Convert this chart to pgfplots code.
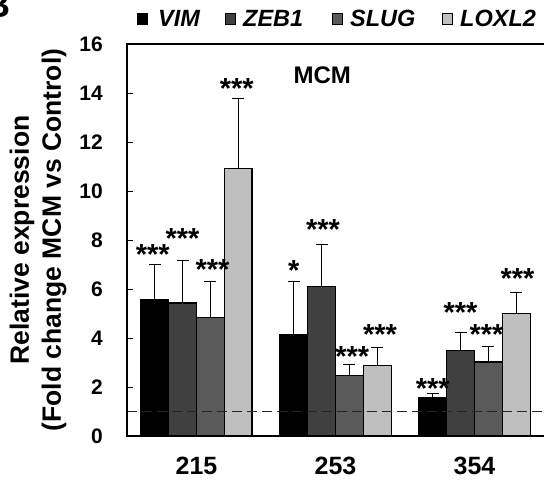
\documentclass[border=0pt]{standalone}
\usepackage{pgfplots}
\usepackage{pgfplotstable}
\usepackage{fontspec}
\setmainfont{Liberation Sans}
\pgfplotsset{compat=1.18}

\definecolor{cvim}{HTML}{000000}
\definecolor{czeb}{HTML}{404040}
\definecolor{cslug}{HTML}{5A5A5A}
\definecolor{clox}{HTML}{BFBFBF}

\newcommand{\fs}[1]{\fontsize{#1}{#1}\selectfont\bfseries}

% mean and upper error, groups 215 / 253 / 354
\pgfplotstableread{
x y e
0 5.58 1.42
1 4.12 2.21
2 1.55 0.18
}\vim
\pgfplotstableread{
x y e
0 5.43 1.74
1 6.09 1.72
2 3.48 0.74
}\zeb
\pgfplotstableread{
x y e
0 4.84 1.49
1 2.46 0.47
2 3.02 0.62
}\slug
\pgfplotstableread{
x y e
0 10.93 2.83
1 2.88 0.72
2 4.99 0.89
}\lox

\begin{document}
\begin{tikzpicture}
\begin{axis}[
  at={(0,0)}, anchor=south west,
  scale only axis, width=417pt, height=392pt,
  xmin=-0.5, xmax=2.5, ymin=0, ymax=16,
  ybar=0pt, bar width=0.2,
  axis line style={draw=none},
  clip=false,
  xtick={0,1,2}, xticklabels={215,253,354},
  x tick style={draw=none},
  ytick={0,2,...,16},
  ytick pos=left, tick align=inside, major tick length=6pt,
  y tick style={black,line width=0.8pt},
  /pgf/number format/assume math mode=true,
  yticklabel style={font=\fs{21}, anchor=east, inner sep=0pt, xshift=-24pt},
  xticklabel style={font=\fs{25}, anchor=north, inner sep=0pt, yshift=-21pt},
  ylabel={Relative expression\\(Fold change MCM vs Control)},
  every axis y label/.style={at={(axis description cs:-0.2134,0.5)}, rotate=90,
    anchor=center, align=center, font=\fontsize{26.5}{32}\selectfont\bfseries},
  error bars/y dir=plus, error bars/y explicit,
  error bars/error bar style={black, line width=0.8pt},
  error bars/error mark options={rotate=90, mark size=6pt, black, line width=0.8pt},
]
\addplot[fill=cvim, draw=black, line width=1.2pt] table[x=x,y=y,y error plus=e]{\vim};
\addplot[fill=czeb, draw=black, line width=1.2pt] table[x=x,y=y,y error plus=e]{\zeb};
\addplot[fill=cslug, draw=black, line width=1.2pt] table[x=x,y=y,y error plus=e]{\slug};
\addplot[fill=clox, draw=black, line width=1.2pt] table[x=x,y=y,y error plus=e]{\lox};

\draw[black!85, line width=1.3pt, dash pattern=on 10pt off 5pt] (axis cs:-0.5,1) -- (axis cs:2.5,1);
\draw[line width=1.3pt] (rel axis cs:1,1) -- (rel axis cs:0,1) -- (rel axis cs:0,0) -- (rel axis cs:1,0);

\node[font=\fs{24}] at (axis cs:0.905,14.73) {MCM};

\begin{scope}[every node/.style={font=\fs{29}, anchor=base, yshift=-16.5pt}]
\node at (axis cs:-0.315,7.67) {***};
\node at (axis cs:-0.1,8.33) {***};
\node at (axis cs:0.115,7.06) {***};
\node at (axis cs:0.29,14.45) {***};
\node at (axis cs:0.70,7.02) {*};
\node at (axis cs:0.91,8.69) {***};
\node at (axis cs:1.12,3.51) {***};
\node at (axis cs:1.32,4.41) {***};
\node at (axis cs:1.70,2.2) {***};
\node at (axis cs:1.90,5.3) {***};
\node at (axis cs:2.086,4.41) {***};
\node at (axis cs:2.31,6.7) {***};
\end{scope}
\end{axis}
% legend
\begin{scope}[every node/.style={font=\fs{23.5}\itshape, anchor=base west, inner sep=0pt},
  sq/.style={draw=black, line width=0.8pt}]
\draw[sq, fill=cvim]  (10pt,412pt) rectangle ++(10pt,10.5pt);
\node at (31pt,409pt) {VIM};
\draw[sq, fill=czeb]  (98pt,412pt) rectangle ++(10pt,10.5pt);
\node at (116pt,409pt) {ZEB1};
\draw[sq, fill=cslug] (205pt,412pt) rectangle ++(10pt,10.5pt);
\node at (223pt,409pt) {SLUG};
\draw[sq, fill=clox]  (315pt,412pt) rectangle ++(10pt,10.5pt);
\node at (333pt,409pt) {LOXL2};
\end{scope}
\node[font=\fs{36}, anchor=base east] at (-113pt,418pt) {B};
\pgfresetboundingbox
\path (-127pt,-47pt) rectangle (417pt,436pt);
\end{tikzpicture}
\end{document}
